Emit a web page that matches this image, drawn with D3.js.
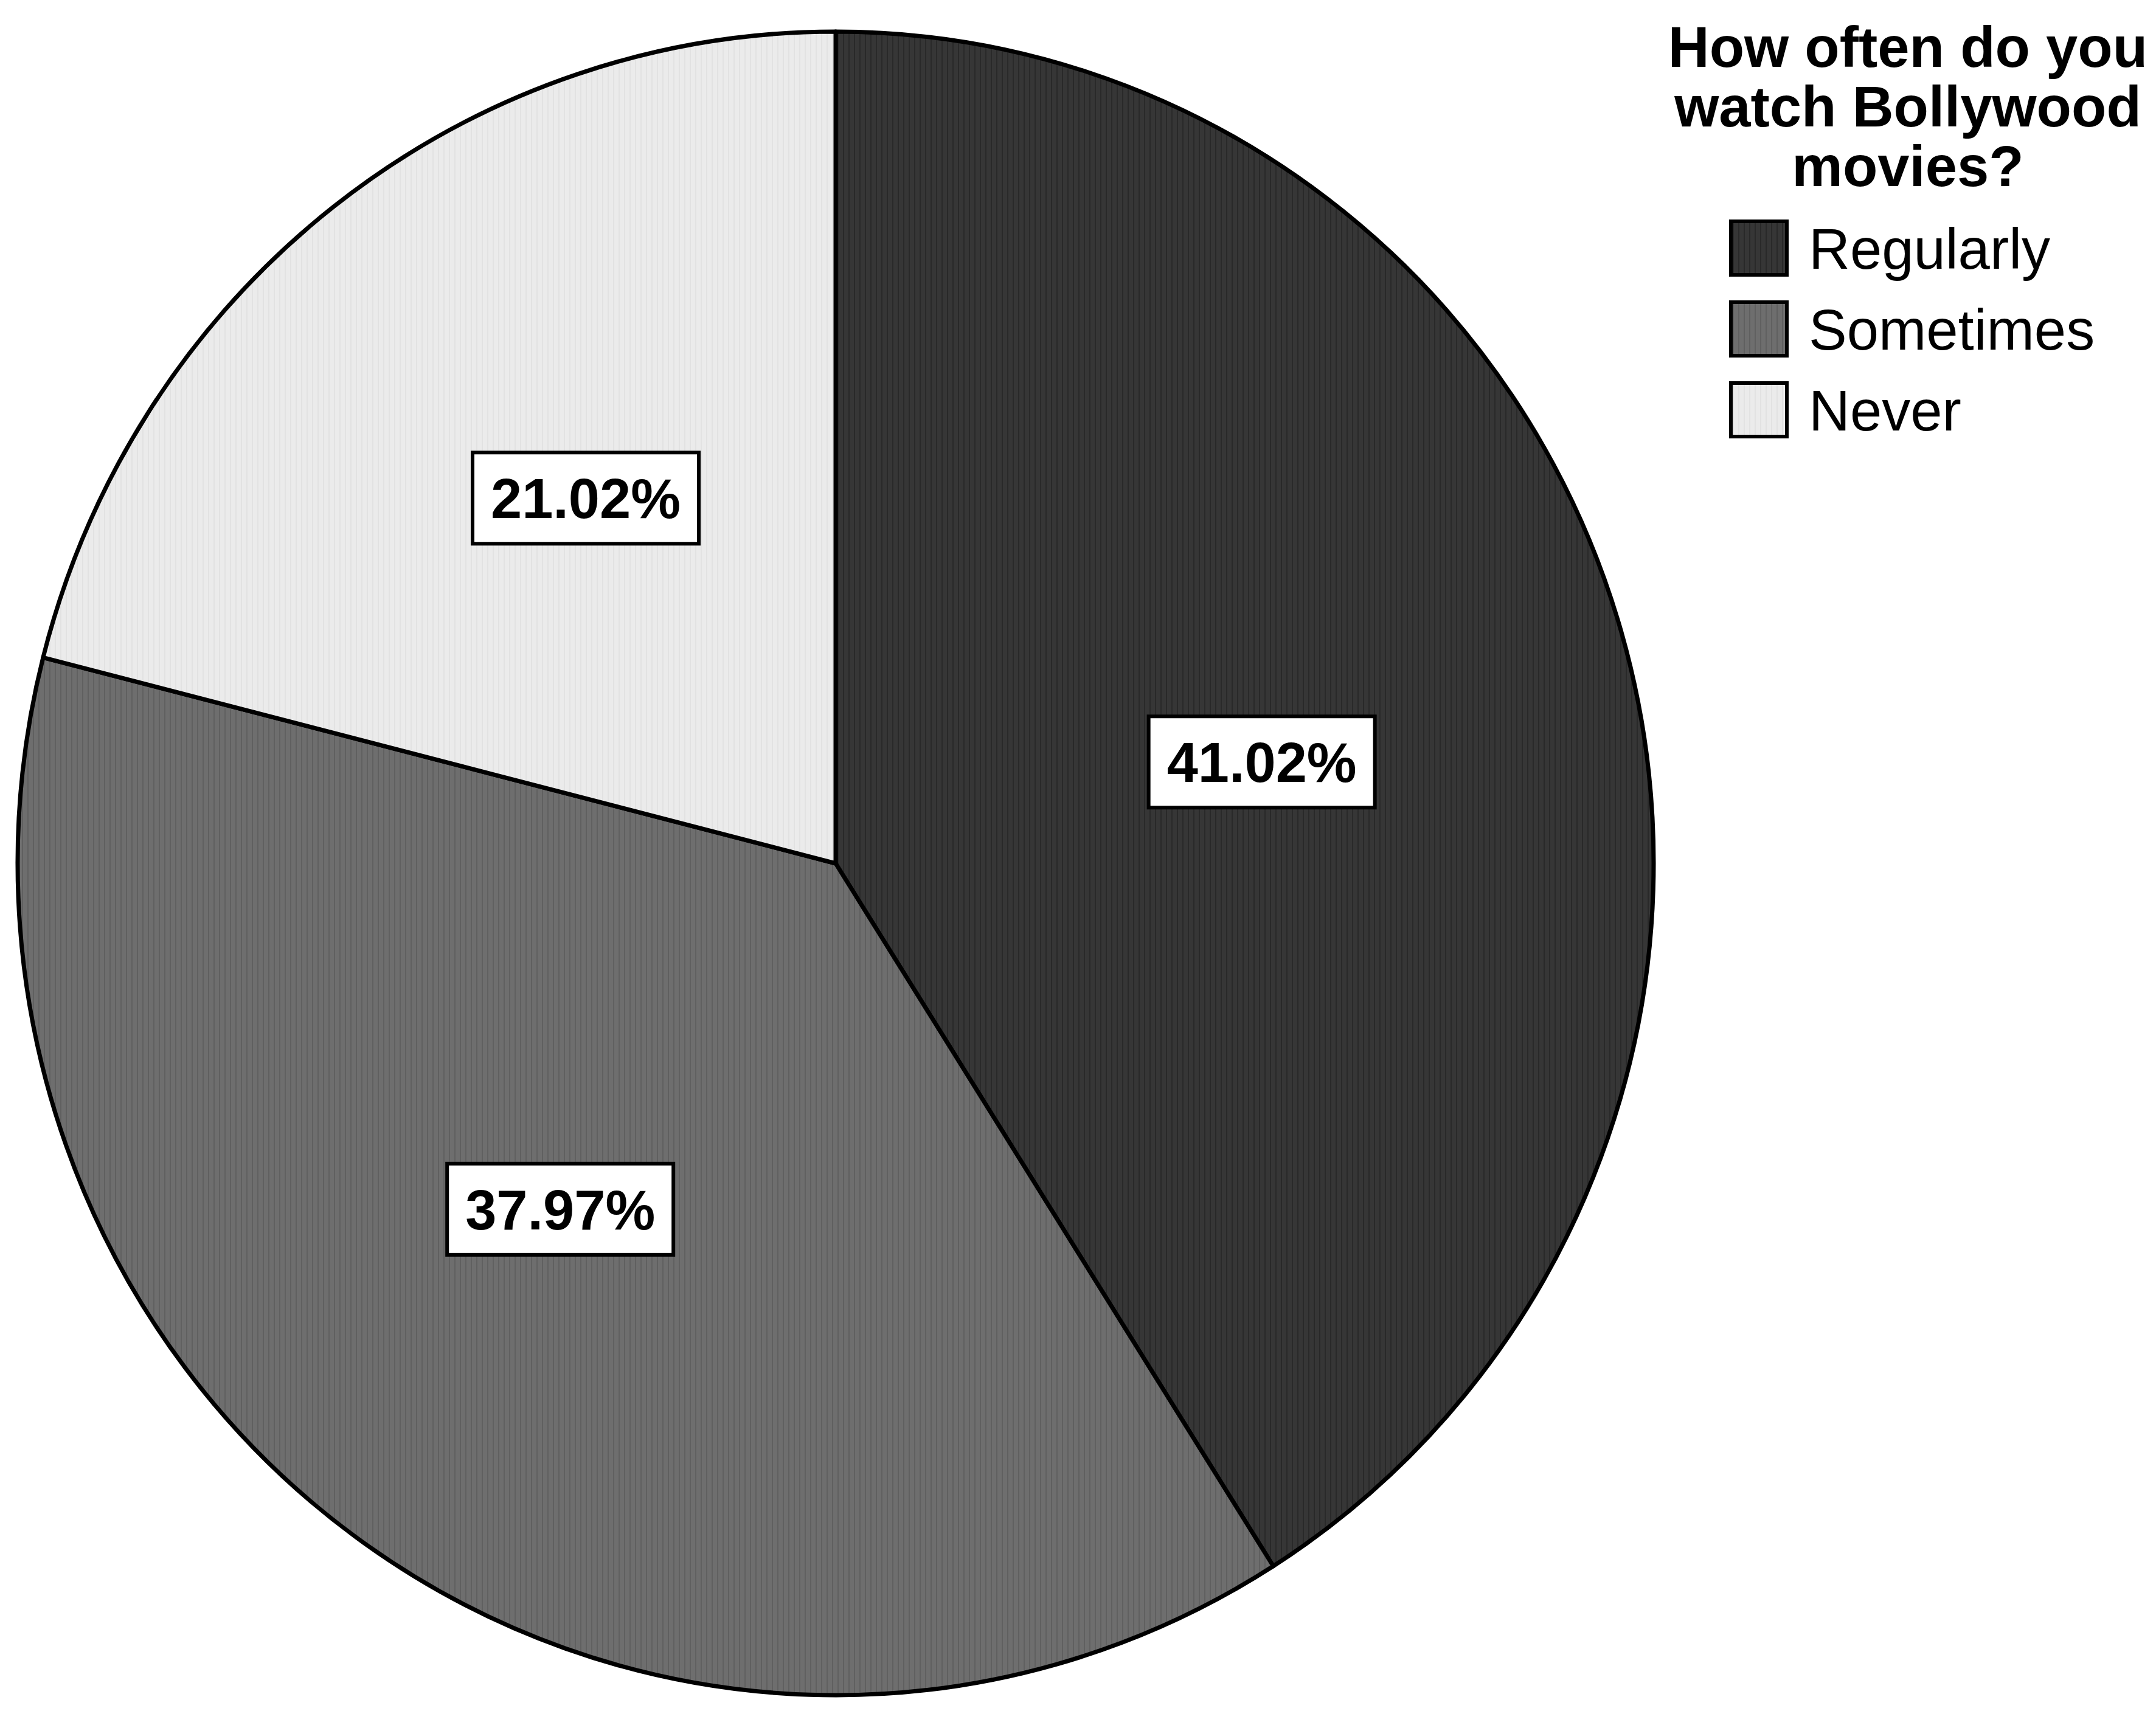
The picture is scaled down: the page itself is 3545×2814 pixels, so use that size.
<!DOCTYPE html>
<html>
<head>
<meta charset="utf-8">
<script src="https://cdn.jsdelivr.net/npm/d3@7/dist/d3.min.js"></script>
<style>
  html, body { margin: 0; padding: 0; background: #ffffff; }
  svg { display: block; }
</style>
</head>
<body>
<div class="PieChart-canvas"></div>
<script>
// data
const categories = ['Regularly', 'Sometimes', 'Never'];
const percents = [41.02, 37.97, 21.02];
const titleLines = ['How often do you', 'watch Bollywood', 'movies?'];

const width = 3545;
const height = 2814;

const fills = ['#363636', '#6e6e6e', '#ebebeb'];
const stripes = ['#292929', '#606060', '#e2e2e2'];

const svg = d3.select('.PieChart-canvas')
    .append('svg')
    .attr('width', width)
    .attr('height', height)
    .style('background', '#FFFFFF');

// light vertical texture like the scanned original
const defs = svg.append('defs');
fills.forEach((c, i) => {
    const p = defs.append('pattern')
        .attr('id', 'tex' + i)
        .attr('patternUnits', 'userSpaceOnUse')
        .attr('width', 9)
        .attr('height', 9);
    p.append('rect').attr('width', 9).attr('height', 9).attr('fill', c);
    p.append('rect').attr('x', 3).attr('width', 2).attr('height', 9).attr('fill', stripes[i]);
});

const cx = 1374, cy = 1420;
const rx = 1345, ry = 1368;

const pie = d3.pie().sort(null).value(d => d);
const arcs = pie(percents);
const arc = d3.arc().innerRadius(0).outerRadius(rx);
const labelArc = d3.arc().innerRadius(rx * 0.535).outerRadius(rx * 0.535);
const labelTurn = 3 * Math.PI / 180;

const g = svg.append('g')
    .attr('transform', `translate(${cx}, ${cy}) scale(1, ${ry / rx})`);

g.selectAll('.slice')
    .data(arcs).enter()
    .append('path')
    .attr('class', 'slice')
    .attr('d', arc)
    .attr('fill', (d, i) => `url(#tex${i})`)
    .attr('stroke', '#000')
    .attr('stroke-width', 7)
    .attr('stroke-linejoin', 'round')
    .attr('vector-effect', 'non-scaling-stroke');

// percentage boxes
const lbl = svg.append('g').attr('transform', `translate(${cx}, ${cy})`);
const boxW = 372, boxH = 150;
const labels = lbl.selectAll('.pct')
    .data(arcs).enter()
    .append('g')
    .attr('class', 'pct')
    .attr('transform', d => {
        const [x, y] = labelArc.centroid({
            startAngle: d.startAngle + labelTurn,
            endAngle: d.endAngle + labelTurn
        });
        return `translate(${x}, ${y * ry / rx})`;
    });

labels.append('rect')
    .attr('x', -boxW / 2)
    .attr('y', -boxH / 2)
    .attr('width', boxW)
    .attr('height', boxH)
    .attr('fill', '#fff')
    .attr('stroke', '#000')
    .attr('stroke-width', 6);

labels.append('text')
    .attr('text-anchor', 'middle')
    .attr('y', 33)
    .style('font-family', 'Liberation Sans, Arial, sans-serif')
    .style('font-weight', 'bold')
    .style('font-size', '92px')
    .text(d => `${d.data.toFixed(2)}%`);

// legend
const legend = svg.append('g');
legend.selectAll('.title')
    .data(titleLines).enter()
    .append('text')
    .attr('class', 'title')
    .attr('x', 3137)
    .attr('y', (d, i) => 110 + i * 98)
    .attr('text-anchor', 'middle')
    .style('font-family', 'Liberation Sans, Arial, sans-serif')
    .style('font-weight', 'bold')
    .style('font-size', '94px')
    .text(d => d);

const items = legend.selectAll('.item')
    .data(categories).enter()
    .append('g')
    .attr('class', 'item')
    .attr('transform', (d, i) => `translate(2846, ${364 + i * 133})`);

items.append('rect')
    .attr('width', 92)
    .attr('height', 88)
    .attr('fill', (d, i) => `url(#tex${i})`)
    .attr('stroke', '#000')
    .attr('stroke-width', 6);

items.append('text')
    .attr('x', 128)
    .attr('y', 78)
    .style('font-family', 'Liberation Sans, Arial, sans-serif')
    .style('font-size', '94px')
    .text(d => d);
</script>
</body>
</html>
